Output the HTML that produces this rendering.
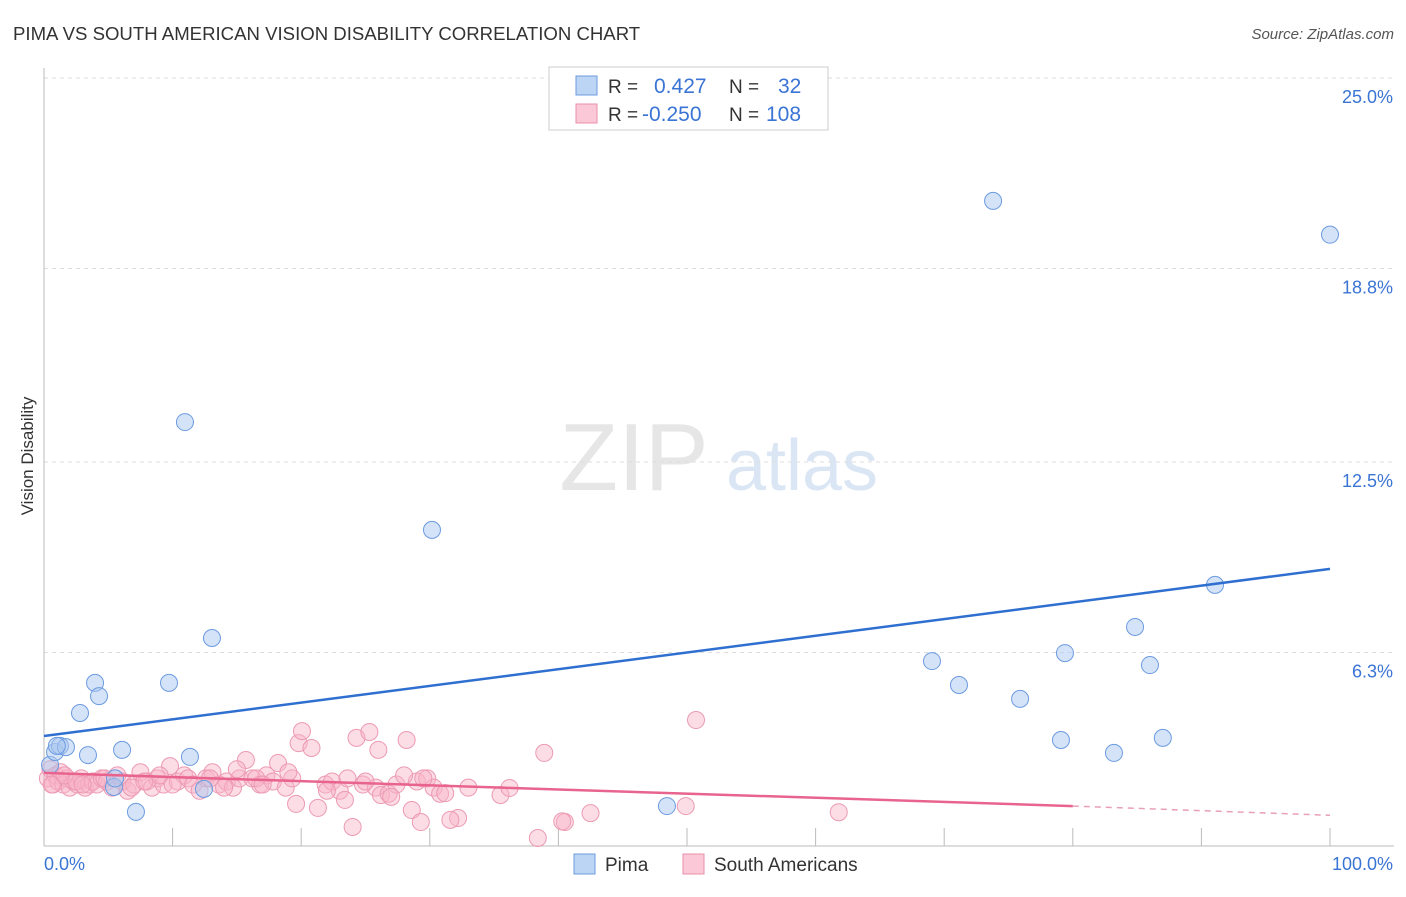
<!DOCTYPE html>
<html><head><meta charset="utf-8"><style>
body{margin:0;background:#fff;font-family:"Liberation Sans",sans-serif;}
svg text{font-family:"Liberation Sans",sans-serif;}
</style></head><body>
<svg id="c" width="1406" height="892">
<text x="13" y="40" font-size="18.6" fill="#333">PIMA VS SOUTH AMERICAN VISION DISABILITY CORRELATION CHART</text>
<text x="1394" y="39" font-size="15" fill="#555" font-style="italic" text-anchor="end">Source: ZipAtlas.com</text>
<text x="33" y="456" font-size="17" fill="#333" transform="rotate(-90 33 456)" text-anchor="middle">Vision Disability</text>
<text x="634" y="490" font-size="96" fill="#e6e6e6" font-family="Liberation Serif" text-anchor="middle">ZIP</text>
<text x="802" y="490" font-size="72" fill="#dbe6f5" text-anchor="middle">atlas</text>
<g id="grid"></g><g id="axes"></g><g id="pts"></g><g id="lines"></g>
<g>
<rect x="549" y="67" width="279" height="63" fill="#fff" stroke="#ccc"/>
<rect x="576" y="76" width="21" height="19" fill="#bcd5f5" stroke="#6c9be0"/>
<rect x="576" y="104" width="21" height="19" fill="#fac8d7" stroke="#ea8fab"/>
<text x="608" y="93" font-size="19" fill="#333">R =</text><text x="654" y="93" font-size="21" fill="#3a74d4">0.427</text>
<text x="729" y="93" font-size="19" fill="#333">N =</text><text x="778" y="93" font-size="21" fill="#3a74d4">32</text>
<text x="608" y="121" font-size="19" fill="#333">R =</text><text x="642" y="121" font-size="21" fill="#3a74d4">-0.250</text>
<text x="729" y="121" font-size="19" fill="#333">N =</text><text x="766" y="121" font-size="21" fill="#3a74d4">108</text>
</g>
<g>
<rect x="574" y="854" width="21" height="20" fill="#bcd5f5" stroke="#6c9be0"/>
<text x="605" y="871" font-size="19" fill="#333">Pima</text>
<rect x="683" y="854" width="21" height="20" fill="#fac8d7" stroke="#ea8fab"/>
<text x="714" y="871" font-size="19" fill="#333">South Americans</text>
</g>
</svg>
<script>
const yTicks=[25.0,18.8,12.5,6.3];
const yTickLabels=["25.0%","18.8%","12.5%","6.3%"];
const xTickLabels=["0.0%","100.0%"];
const pimaX=[0.47,0.86,1.24,1.71,3.42,2.8,3.97,4.28,6.07,5.44,7.15,9.72,10.96,11.35,12.44,13.06,30.17,48.44,69.05,71.15,73.8,75.9,79.08,79.39,83.2,84.84,86.0,87.0,91.06,100,1.0,5.52];
const pimaY=[2.64,3.06,3.26,3.22,2.96,4.33,5.31,4.88,3.13,1.92,1.11,5.31,13.8,2.9,1.86,6.77,10.29,1.3,6.02,5.24,21.0,4.79,3.45,6.28,3.03,7.13,5.89,3.52,8.5,19.9,3.26,2.2];
const saX=[0.3,0.5,0.7,0.9,1.1,1.3,1.5,1.8,2.0,2.3,2.6,2.9,3.2,3.5,3.8,4.1,4.5,4.9,5.3,5.7,6.1,6.5,7.0,7.5,8.0,8.4,8.8,9.3,9.8,10.4,10.9,11.2,11.6,12.1,12.6,13.1,13.6,14.2,14.7,15.2,15.7,16.2,16.8,17.3,17.8,18.2,18.8,19.3,19.6,19.8,20.06,20.8,21.3,21.9,22.4,23.0,23.4,24.0,24.3,24.8,25.3,25.8,26.0,26.2,26.8,27.4,28.2,28.6,29.0,29.3,29.8,30.3,30.8,31.2,32.2,31.6,35.5,36.2,38.4,38.9,40.5,40.3,42.5,49.9,50.7,61.8,0.6,1.6,2.5,3.0,4.7,6.8,7.8,9.0,10.0,12.9,14.0,15.0,16.5,17.0,19.0,22.0,23.6,25.0,27.0,28.0,29.5,33.0];
const saY=[2.2,2.5,2.0,2.3,2.1,2.4,2.0,2.2,1.9,2.1,2.0,2.2,1.9,2.0,2.1,2.0,2.2,2.1,1.9,2.3,2.1,1.8,2.0,2.4,2.1,1.9,2.2,2.0,2.6,2.1,2.3,2.2,2.0,1.8,2.2,2.4,2.0,2.1,1.9,2.2,2.8,2.2,2.0,2.3,2.1,2.7,1.9,2.2,1.37,3.35,3.74,3.19,1.24,2.0,2.1,1.8,1.5,0.62,3.52,2.0,3.71,1.9,3.13,1.66,1.7,2.0,3.45,1.17,2.1,0.78,2.2,1.9,1.7,1.72,0.91,0.85,1.66,1.89,0.26,3.03,0.78,0.8,1.07,1.3,4.1,1.1,2.0,2.3,2.1,2.0,2.2,1.9,2.1,2.3,2.0,2.2,1.9,2.5,2.2,2.0,2.4,1.8,2.2,2.1,1.6,2.3,2.2,1.9];
const X0=44,X1=1330,Y0=846,YS=30.72;
const sx=v=>X0+(X1-X0)*v/100, sy=v=>Y0-v*YS;
const NS="http://www.w3.org/2000/svg";
function mk(t,a,p){const e=document.createElementNS(NS,t);for(const k in a)e.setAttribute(k,a[k]);document.getElementById(p).appendChild(e);return e;}
yTicks.forEach((t,i)=>{
 const l=mk('line',{x1:X0,x2:1394,y1:sy(t),y2:sy(t),stroke:'#ddd','stroke-dasharray':'4,4'},'grid');
 
 
 const tx=mk('text',{x:1393,y:sy(t)+25,'font-size':18,fill:'#3a74d4','text-anchor':'end'},'grid');
 tx.textContent=yTickLabels[i];
 
 
});
const ax=mk('line',{x1:X0,x2:X0,y1:68,y2:Y0,stroke:'#bbb'},'axes');


const bx=mk('line',{x1:X0,x2:1394,y1:Y0,y2:Y0,stroke:'#bbb'},'axes');


for(let i=1;i<=10;i++){const t=mk('line',{x1:sx(i*10),x2:sx(i*10),y1:Y0,y2:Y0-18,stroke:'#bbb'},'axes');
 
 }
[[0,'start',X0],[100,'end',1393]].forEach((d,i)=>{const t=mk('text',{x:d[2],y:870,'font-size':18,fill:'#3a74d4','text-anchor':d[1]},'axes');t.textContent=xTickLabels[i];
 
 });
saX.forEach((x,i)=>{const c=mk('circle',{cx:sx(x),cy:sy(saY[i]),r:8.5,fill:'rgba(248,180,200,0.45)',stroke:'#ec9ab3','stroke-width':1},'pts');
 
 });
pimaX.forEach((x,i)=>{const c=mk('circle',{cx:sx(x),cy:sy(pimaY[i]),r:8.5,fill:'rgba(170,200,240,0.5)',stroke:'#6c9be0','stroke-width':1},'pts');
 
 });
const bl=mk('line',{x1:sx(0),y1:sy(3.58),x2:sx(100),y2:sy(9.02),stroke:'#2f6fd0','stroke-width':2.5},'lines');


const pl=mk('line',{x1:sx(0),y1:sy(2.38),x2:sx(80),y2:sy(1.3),stroke:'#e8648e','stroke-width':2.5},'lines');


const pd=mk('line',{x1:sx(80),y1:sy(1.3),x2:sx(100),y2:sy(1.0),stroke:'#e8a0b6','stroke-width':1.5,'stroke-dasharray':'6,5'},'lines');


</script>
</body></html>
